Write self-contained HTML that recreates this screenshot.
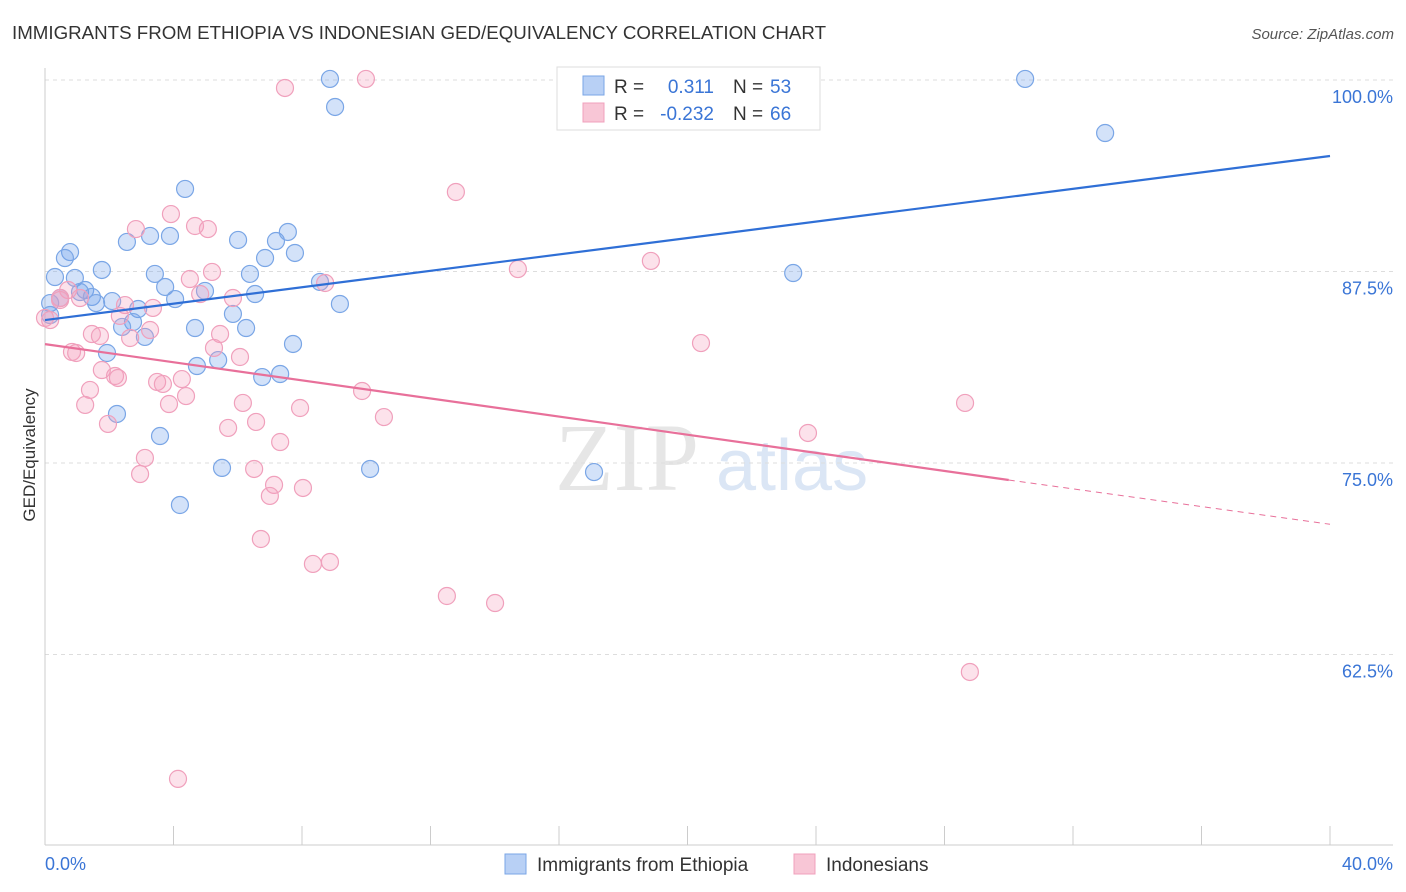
<!DOCTYPE html>
<html><head><meta charset="utf-8"><style>
body{margin:0;background:#fff;font-family:"Liberation Sans",sans-serif}
svg{display:block}
</style></head><body>
<svg id="c" width="1406" height="892" xmlns="http://www.w3.org/2000/svg">
<text x="12" y="39" font-size="18" fill="#333" textLength="814" lengthAdjust="spacingAndGlyphs">IMMIGRANTS FROM ETHIOPIA VS INDONESIAN GED/EQUIVALENCY CORRELATION CHART</text>
<text x="1394" y="39" font-size="15" fill="#555" font-style="italic" text-anchor="end">Source: ZipAtlas.com</text>
<text x="555" y="490" font-size="96" fill="#e6e6e6" font-family="Liberation Serif">ZIP</text>
<text x="716" y="490" font-size="72" fill="#dbe6f5">atlas</text>
<g id="grid"></g><g id="pts"></g><g id="lines"></g>
<text x="35" y="455" font-size="17" fill="#333" text-anchor="middle" transform="rotate(-90 35 455)">GED/Equivalency</text>
<text x="45" y="870" font-size="18" fill="#3a75d6">0.0%</text>
<text x="1393" y="870" font-size="18" fill="#3a75d6" text-anchor="end">40.0%</text>
<g>
<rect x="557" y="67" width="263" height="63" fill="#fff" stroke="#ddd"/>
<rect x="583" y="76" width="21" height="19" fill="#b8d0f5" stroke="#7aa6e6"/>
<rect x="583" y="103" width="21" height="19" fill="#f8c6d6" stroke="#f0a0bc"/>
<text x="614" y="93" font-size="19" fill="#333">R =</text>
<text x="714" y="93" font-size="19" fill="#3a75d6" text-anchor="end">0.311</text>
<text x="733" y="93" font-size="19" fill="#333">N =</text>
<text x="770" y="93" font-size="19" fill="#3a75d6">53</text>
<text x="614" y="120" font-size="19" fill="#333">R =</text>
<text x="714" y="120" font-size="19" fill="#3a75d6" text-anchor="end">-0.232</text>
<text x="733" y="120" font-size="19" fill="#333">N =</text>
<text x="770" y="120" font-size="19" fill="#3a75d6">66</text>
</g>
<g>
<rect x="505" y="854" width="21" height="20" fill="#b8d0f5" stroke="#7aa6e6"/>
<text x="537" y="871" font-size="19" fill="#333">Immigrants from Ethiopia</text>
<rect x="794" y="854" width="21" height="20" fill="#f8c6d6" stroke="#f0a0bc"/>
<text x="826" y="871" font-size="19" fill="#333">Indonesians</text>
</g>
</svg>
<script>
const yTicks=[100,87.5,75,62.5];
const yTickLabels=["100.0%","87.5%","75.0%","62.5%"];
const xTicks=[0,4,8,12,16,20,24,28,32,36,40];
const blueX=[8.87,9.03,30.51,33.0,4.36,0.78,0.62,2.55,3.27,3.89,6.01,7.19,7.56,7.78,6.85,1.77,3.42,6.38,0.93,0.31,3.74,4.98,1.25,1.09,1.46,1.59,2.09,0.47,0.16,4.05,6.54,8.56,9.18,2.90,5.85,2.74,2.40,3.11,4.67,6.26,7.72,1.93,4.73,5.39,6.76,7.32,23.29,2.24,3.58,5.51,10.12,17.09,4.20,0.16];
const blueY=[100.07,98.24,100.07,96.54,92.89,88.77,88.38,89.43,89.82,89.82,89.56,89.49,90.08,88.71,88.38,87.6,87.34,87.34,87.08,87.14,86.49,86.23,86.29,86.16,85.84,85.44,85.57,85.77,85.44,85.7,86.03,86.82,85.38,85.05,84.73,84.2,83.88,83.23,83.81,83.81,82.77,82.18,81.33,81.72,80.61,80.81,87.4,78.2,76.76,74.68,74.61,74.41,72.26,84.66];
const pinkX=[7.47,9.99,12.79,3.92,2.83,4.67,5.07,14.72,18.86,4.51,5.20,8.72,0.72,0.47,1.09,4.83,5.85,2.49,3.36,2.33,0.16,1.46,1.71,3.27,5.45,2.65,5.26,6.07,0.84,0.97,20.42,1.77,2.18,2.27,3.49,3.67,4.26,9.87,1.40,4.39,3.86,6.16,7.94,1.25,10.55,28.64,1.96,5.70,6.57,23.75,7.32,3.11,2.96,6.51,7.13,7.00,8.03,6.72,8.87,8.34,12.51,14.01,28.79,4.14,0.0,0.47];
const pinkY=[99.48,100.07,92.69,91.25,90.27,90.47,90.27,87.66,88.19,87.01,87.47,86.75,86.29,85.77,85.77,86.03,85.77,85.31,85.12,84.6,84.33,83.42,83.29,83.68,83.42,83.16,82.51,81.92,82.25,82.18,82.83,81.07,80.68,80.55,80.29,80.16,80.48,79.7,79.77,79.37,78.85,78.92,78.59,78.79,78.0,78.92,77.55,77.29,77.68,76.96,76.37,75.33,74.28,74.61,73.57,72.85,73.37,70.04,68.54,68.41,66.32,65.86,61.36,54.38,84.47,85.64];
const blueLine=[[0,84.33],[40,95.04]];
const pinkLine=[[0,82.76],[30,73.89]];
const pinkDash=[[30,73.89],[40,71.0]];
const X=v=>45+v/40*1285, Y=v=>80+(100-v)/12.5*191.5;
const NS="http://www.w3.org/2000/svg";
function mk(p,t,a){const e=document.createElementNS(NS,t);for(const k in a)e.setAttribute(k,a[k]);p.appendChild(e);return e;}
const g=document.getElementById('grid');
yTicks.forEach((t,i)=>{
 const l=mk(g,'line',{x1:45,x2:1393,y1:Y(t),y2:Y(t),stroke:'#ddd','stroke-dasharray':'4,4'});
 
 
 const tx=mk(g,'text',{x:1393,y:Y(t)+23,'font-size':18,fill:'#3a75d6','text-anchor':'end'});
 tx.textContent=yTickLabels[i];
 
 
});
const ax=mk(g,'line',{x1:45,x2:45,y1:68,y2:845,stroke:'#ccc'});


const bx=mk(g,'line',{x1:45,x2:1393,y1:845,y2:845,stroke:'#ccc'});


xTicks.forEach(t=>{
 const l=mk(g,'line',{x1:X(t),x2:X(t),y1:826,y2:845,stroke:'#ccc'});
 
 
});
const p=document.getElementById('pts');
function pts(xs,ys,fill,stroke,name){xs.forEach((x,i)=>{
 const c=mk(p,'circle',{cx:X(x),cy:Y(ys[i]),r:8.5,fill:fill,stroke:stroke,'stroke-width':1.2});
 
 
});}
pts(blueX,blueY,'rgba(110,160,235,0.3)','#7aa6e6','ethiopia-point');
pts(pinkX,pinkY,'rgba(245,160,190,0.3)','#f0a0bc','indonesian-point');
const L=document.getElementById('lines');
function ln(d,c,name,dash){const l=mk(L,'line',{x1:X(d[0][0]),y1:Y(d[0][1]),x2:X(d[1][0]),y2:Y(d[1][1]),stroke:c,'stroke-width':dash?1:2.2});
 if(dash)l.setAttribute('stroke-dasharray','6,5');
 
 }
ln(blueLine,'#2f6fd6','ethiopia-trend-line');
ln(pinkLine,'#e8709a','indonesian-trend-line');
ln(pinkDash,'#e8709a','indonesian-trend-extension',true);
</script>
</body></html>
